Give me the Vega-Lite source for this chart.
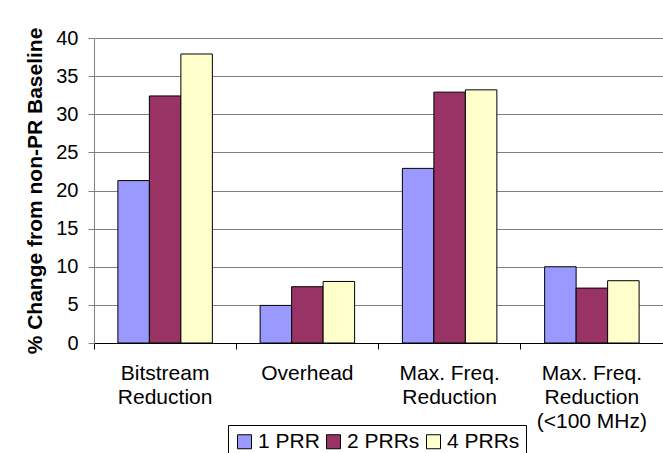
{
  "$schema": "https://vega.github.io/schema/vega-lite/v6.json",
  "width": 569,
  "height": 305,
  "autosize": {"type": "none"},
  "padding": {"left": 94, "top": 38, "right": 0, "bottom": 110},
  "background": "white",
  "config": {
    "font": "Liberation Sans",
    "view": {"stroke": null},
    "axis": {"labelFont": "Liberation Sans", "titleFont": "Liberation Sans", "labelColor": "black", "titleColor": "black"}
  },
  "data": {
    "values": [
      {"category": "Bitstream Reduction", "series": "1 PRR", "value": 21.3},
      {"category": "Bitstream Reduction", "series": "2 PRRs", "value": 32.4},
      {"category": "Bitstream Reduction", "series": "4 PRRs", "value": 37.9},
      {"category": "Overhead", "series": "1 PRR", "value": 4.93},
      {"category": "Overhead", "series": "2 PRRs", "value": 7.38},
      {"category": "Overhead", "series": "4 PRRs", "value": 8.07},
      {"category": "Max. Freq. Reduction", "series": "1 PRR", "value": 22.9},
      {"category": "Max. Freq. Reduction", "series": "2 PRRs", "value": 32.9},
      {"category": "Max. Freq. Reduction", "series": "4 PRRs", "value": 33.2},
      {"category": "Max. Freq. Reduction (<100 MHz)", "series": "1 PRR", "value": 10.0},
      {"category": "Max. Freq. Reduction (<100 MHz)", "series": "2 PRRs", "value": 7.2},
      {"category": "Max. Freq. Reduction (<100 MHz)", "series": "4 PRRs", "value": 8.17}
    ]
  },
  "encoding": {
    "xOffset": {
      "field": "series",
      "type": "nominal",
      "scale": {"paddingInner": 0, "paddingOuter": 0.758}
    },
    "y": {
      "field": "value",
      "type": "quantitative",
      "scale": {"domain": [0, 40], "nice": false},
      "axis": {
        "title": "% Change from non-PR Baseline",
        "titleFontSize": 21,
        "titleFontWeight": "bold",
        "titlePadding": 10,
        "values": [0, 5, 10, 15, 20, 25, 30, 35, 40],
        "grid": true,
        "gridColor": "#808080",
        "gridOpacity": 1,
        "domainColor": "#808080",
        "tickColor": "#808080",
        "tickSize": 6,
        "labelFontSize": 20,
        "labelPadding": 10
      }
    }
  },
  "layer": [
    {
      "mark": {"type": "bar", "stroke": "black", "strokeWidth": 1},
      "encoding": {
        "x": {
          "field": "category",
          "type": "nominal",
          "sort": null,
          "scale": {"paddingInner": 0, "paddingOuter": 0},
          "axis": {
            "title": null,
            "orient": "bottom",
            "labelAngle": 0,
            "ticks": false,
            "domainColor": "black",
            "labelFontSize": 21,
            "labelLineHeight": 24,
            "labelPadding": 19,
            "labelBaseline": "top",
            "labelExpr": "datum.value == 'Overhead' ? 'Overhead' : datum.value == 'Bitstream Reduction' ? ['Bitstream','Reduction'] : datum.value == 'Max. Freq. Reduction' ? ['Max. Freq.','Reduction'] : ['Max. Freq.','Reduction','(<100 MHz)']"
          }
        },
        "color": {
          "field": "series",
          "type": "nominal",
          "scale": {"domain": ["1 PRR", "2 PRRs", "4 PRRs"], "range": ["#9999FF", "#993366", "#FFFFCC"]},
          "legend": {
            "title": null,
            "orient": "none",
            "direction": "horizontal",
            "legendX": 134,
            "legendY": 387,
            "symbolType": "square",
            "symbolSize": 196,
            "symbolStrokeColor": "black",
            "symbolStrokeWidth": 1,
            "symbolOpacity": 1,
            "labelFontSize": 21,
            "labelColor": "black",
            "labelOffset": 3,
            "columnPadding": 3,
            "strokeColor": "black",
            "padding": 6
          }
        }
      }
    },
    {
      "mark": {"type": "bar", "opacity": 0},
      "encoding": {
        "x": {
          "field": "category",
          "type": "nominal",
          "sort": null,
          "scale": {"paddingInner": 0, "paddingOuter": 0},
          "axis": {
            "title": null,
            "orient": "bottom",
            "labels": false,
            "domain": false,
            "grid": false,
            "bandPosition": 0,
            "ticks": true,
            "tickSize": 6,
            "tickColor": "black"
          }
        }
      }
    }
  ],
  "resolve": {"axis": {"x": "independent"}}
}
